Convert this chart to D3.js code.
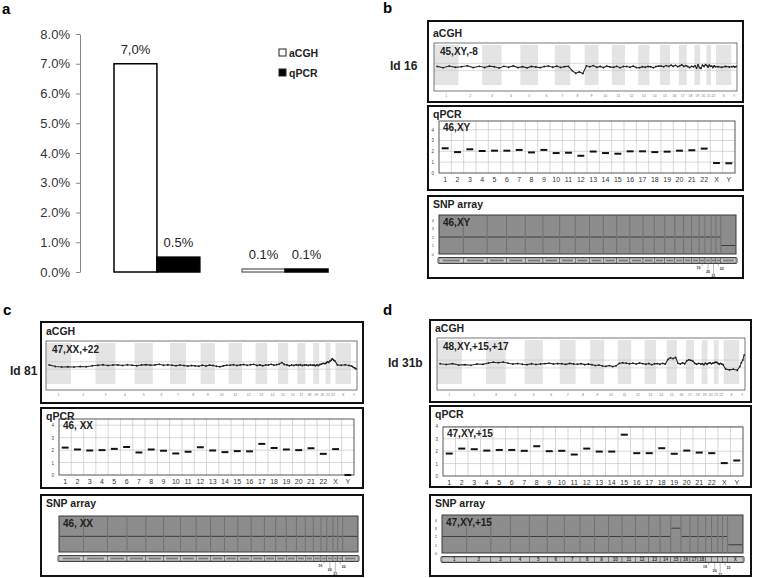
<!DOCTYPE html>
<html>
<head>
<meta charset="utf-8">
<script src="https://cdn.jsdelivr.net/npm/d3@7"></script>
<style>
  body { margin: 0; background: #fff; }
  text { font-family: "Liberation Sans", Arial, sans-serif; }
</style>
</head>
<body>
<svg id="fig" width="757" height="578"></svg>
<script>
// ---------- panel a data
const groupsA = ["A", "B"];
const seriesA = ["aCGH", "qPCR"];
const aCGHRate = [7.0, 0.1];
const qPCRRate = [0.5, 0.1];
const rateText = [["7,0%", "0.5%"], ["0.1%", "0.1%"]];
const rateTicks = [0, 1, 2, 3, 4, 5, 6, 7, 8];

// ---------- genome data
const chromosomes = ["1","2","3","4","5","6","7","8","9","10","11","12","13","14","15","16","17","18","19","20","21","22","X","Y"];
const chromLengthMb = [249,243,198,191,181,171,159,146,141,136,135,134,115,107,103,90,81,78,59,63,48,51,155,59];
const qpcrTicks = [0, 1, 2, 3, 4];
const snpTicks = [0, 1, 2, 3, 4];

// aCGH log2 ratios, a few probes per chromosome (1..22, X, Y)
const acghId16 = [
  [0.05,-0.06,0.08,-0.03],[0.02,0.1,-0.05,0.06],[-0.04,0.07,0.02,-0.08],[0.06,-0.02,0.09,-0.05],
  [0.03,-0.07,0.05,0.0],[-0.05,0.04,0.08,-0.02],[0.07,-0.04,0.03,0.06],[-0.3,-0.52,-0.41,-0.55],
  [0.1,0.02,0.12,-0.03],[0.05,-0.05,0.07,0.01],[-0.03,0.06,-0.06,0.04],[0.04,-0.02,0.07,-0.05],
  [-0.06,0.03,-0.02,0.05],[0.02,-0.06,0.04,0.07],[0.08,0.02,0.12,0.05],[0.15,0.06,0.14,0.03],
  [0.1,0.18,0.05,0.12],[0.04,-0.05,0.06,0.02],[0.1,-0.1,0.18,-0.05],[-0.12,0.15,0.05,0.2],
  [0.12,0.0,0.16,0.06],[0.08,-0.04,0.1,0.02],[0.03,-0.03,0.05,0.0],[0.02,0.06,0.0,0.04]
];
const acghId81 = [
  [0.05,-0.08,-0.12,-0.1],[-0.12,-0.08,-0.1,-0.02],[0.02,0.06,0.0,0.04],[0.05,0.0,0.06,0.02],
  [-0.02,0.04,0.07,0.03],[0.05,0.1,0.02,0.06],[0.02,-0.02,0.04,0.0],[-0.05,0.0,-0.03,-0.06],
  [0.02,-0.04,0.03,0.0],[-0.06,-0.1,-0.03,0.02],[0.03,0.06,0.0,0.05],[0.08,0.02,0.06,0.1],
  [0.0,0.05,-0.02,0.04],[0.05,0.1,0.03,0.06],[0.12,0.24,0.08,0.05],[-0.02,0.04,0.0,0.06],
  [0.02,0.07,0.0,0.04],[0.05,0.0,0.06,0.02],[0.04,-0.02,0.05,0.0],[0.08,0.12,0.18,0.15],
  [0.2,0.3,0.25,0.35],[0.42,0.55,0.45,0.38],[0.05,0.02,0.06,0.0],[-0.05,-0.15,-0.2,-0.28]
];
const acghId31b = [
  [0.02,-0.04,0.03,-0.08],[-0.05,-0.1,0.0,-0.03],[0.08,0.14,0.1,0.15],[0.06,0.0,0.04,-0.02],
  [-0.05,0.02,-0.04,0.0],[0.03,0.06,0.0,0.04],[0.02,-0.03,0.05,0.0],[-0.02,0.03,-0.05,0.0],
  [-0.05,-0.12,-0.08,-0.15],[-0.18,-0.12,-0.2,-0.14],[0.05,0.1,0.06,0.02],[0.06,0.0,0.08,0.03],
  [-0.02,0.04,-0.05,0.02],[0.03,-0.02,0.05,0.0],[0.35,0.48,0.42,0.5],[0.05,0.0,0.08,0.02],
  [0.25,0.32,0.28,0.22],[0.04,-0.02,0.05,0.0],[0.02,-0.05,0.06,-0.02],[0.05,0.1,0.02,0.08],
  [0.1,0.15,0.12,0.05],[-0.02,0.05,0.0,-0.05],[-0.38,-0.45,-0.4,-0.48],[-0.2,0.1,0.3,0.7]
];

// qPCR copy number per chromosome (1..22, X, Y)
const qpcrId16 = [2.28,1.93,2.19,2.03,2.06,2.06,2.13,1.9,2.13,1.84,1.87,1.59,1.98,1.84,1.78,2.0,2.0,1.93,1.97,2.06,2.1,2.25,0.92,0.9];
const qpcrId81 = [2.2,2.05,1.97,2.0,2.1,2.25,1.81,2.05,1.95,1.73,1.87,2.23,1.97,1.84,1.92,1.9,2.5,2.17,2.05,2.0,2.15,1.7,2.08,0.0];
const qpcrId31b = [1.81,2.21,2.16,2.05,2.1,2.1,2.03,2.4,2.0,2.03,1.73,2.21,1.97,1.97,3.33,1.84,1.84,2.24,1.79,2.05,1.89,1.84,1.04,1.25];

// SNP array copy number per chromosome (1..22, X)
const snpId16 = [2,2,2,2,2,2,2,2,2,2,2,2,2,2,2,2,2,2,2,2,2,2,1];
const snpId81 = [2,2,2,2,2,2,2,2,2,2,2,2,2,2,2,2,2,2,2,2,2,2,2];
const snpId31b = [2,2,2,2,2,2,2,2,2,2,2,2,2,2,3,2,2,2,2,2,2,2,1];

const svg = d3.select("#fig");

// ================= panel a
const ga = svg.append("g");
ga.append("text").attr("x", 2).attr("y", 14).attr("font-size", 15).attr("font-weight", "bold").text("a");

const xA = d3.scaleBand().domain(groupsA).range([114, 328]).paddingInner(0.33);
const xA1 = d3.scaleBand().domain(seriesA).range([0, xA.bandwidth()]);
const yA = d3.scaleLinear().domain([0, 8]).range([272, 34]);

ga.append("g")
  .attr("transform", "translate(80,0)")
  .call(d3.axisLeft(yA).tickValues(rateTicks).tickSize(4).tickSizeOuter(0).tickPadding(6)
    .tickFormat(d => d.toFixed(1) + "%"))
  .call(g => {
    g.select(".domain").attr("stroke", "#888");
    g.selectAll(".tick line").attr("stroke", "#888");
    g.selectAll(".tick text").attr("font-size", 13).attr("fill", "#333")
      .attr("font-family", "'Liberation Sans', Arial, sans-serif");
  });

const barsA = groupsA.flatMap((grp, i) => [
  { grp, s: "aCGH", v: aCGHRate[i], t: rateText[i][0] },
  { grp, s: "qPCR", v: qPCRRate[i], t: rateText[i][1] }
]);

ga.selectAll(".barA")
  .data(barsA)
  .join("rect")
  .attr("class", "barA")
  .attr("x", d => xA(d.grp) + xA1(d.s))
  .attr("y", d => yA(d.v))
  .attr("width", xA1.bandwidth())
  .attr("height", d => yA(0) - yA(d.v))
  .attr("fill", d => d.s === "aCGH" ? "#fff" : "#000")
  .attr("stroke", d => d.s === "aCGH" && d.v < 1 ? "#777" : "#000")
  .attr("stroke-width", 1.5);

ga.selectAll(".lblA")
  .data(barsA)
  .join("text")
  .attr("x", d => xA(d.grp) + xA1(d.s) + xA1.bandwidth() / 2)
  .attr("y", d => yA(d.v) - 10)
  .attr("text-anchor", "middle")
  .attr("font-size", 13)
  .attr("fill", "#222")
  .text(d => d.t);

// legend
const legA = ga.selectAll(".legA").data(seriesA).join("g")
  .attr("transform", (d, i) => `translate(279,${49 + i * 20})`);
legA.append("rect").attr("width", 7).attr("height", 7)
  .attr("fill", d => d === "aCGH" ? "#fff" : "#000").attr("stroke", "#222").attr("stroke-width", 1);
legA.append("text").attr("x", 10).attr("y", 7.5).attr("font-size", 10.5).attr("font-weight", "bold")
  .attr("fill", "#222").text(d => d);

// ================= genome panels
const chromEnds = d3.cumsum(chromLengthMb);
const chromStarts = chromLengthMb.map((l, i) => chromEnds[i] - l);

const panels = [
  {
    letter: "b", letterPos: [383, 13], id: "Id 16", idPos: [390, 70],
    karyo: ["45,XY,-8", "46,XY", "46,XY"],
    acgh: acghId16, qpcr: qpcrId16, snp: snpId16,
    boxX: [428, 743],
    acghBox: [21, 102], acghIn: { x0: 434, x1: 737, y0: 43, y1: 91 },
    qpcrBox: [106, 190], qpcrIn: { x0: 439, x1: 735, y0: 121, y1: 173 }, qMax: 4.8,
    snpBox: [196, 278], snpIn: { x0: 439, x1: 736, y0: 215, y1: 254 },
    snpAxis: true, barNumbers: false
  },
  {
    letter: "c", letterPos: [3, 315], id: "Id 81", idPos: [10, 375],
    karyo: ["47,XX,+22", "46, XX", "46, XX"],
    acgh: acghId81, qpcr: qpcrId81, snp: snpId81,
    boxX: [41, 363],
    acghBox: [322, 403], acghIn: { x0: 46, x1: 357, y0: 341, y1: 390 },
    qpcrBox: [408, 488], qpcrIn: { x0: 59, x1: 354, y0: 419, y1: 475 }, qMax: 4.5,
    snpBox: [495, 576], snpIn: { x0: 59, x1: 358, y0: 516, y1: 552 },
    snpAxis: false, barNumbers: false
  },
  {
    letter: "d", letterPos: [383, 315], id: "Id 31b", idPos: [388, 367],
    karyo: ["48,XY,+15,+17", "47,XY,+15", "47,XY,+15"],
    acgh: acghId31b, qpcr: qpcrId31b, snp: snpId31b,
    boxX: [430, 751],
    acghBox: [320, 402], acghIn: { x0: 437, x1: 745, y0: 338, y1: 390 },
    qpcrBox: [406, 487], qpcrIn: { x0: 443, x1: 743, y0: 427, y1: 476 }, qMax: 3.95,
    snpBox: [495, 576], snpIn: { x0: 442, x1: 743, y0: 515, y1: 553 },
    snpAxis: true, barNumbers: true
  }
];

function styleTinyAxis(g, size, color) {
  g.select(".domain").remove();
  g.selectAll(".tick line").remove();
  g.selectAll(".tick text").attr("font-size", size).attr("fill", color)
    .attr("font-family", "'Liberation Sans', Arial, sans-serif");
}

function drawAcgh(g, p) {
  const inn = p.acghIn;
  const x = d3.scaleLinear().domain([0, chromEnds[chromEnds.length - 1]]).range([inn.x0, inn.x1]);
  const y = d3.scaleLinear().domain([-2, 2]).range([inn.y1, inn.y0]);
  const chr = chromosomes.map((c, i) => ({ c, i, s: chromStarts[i], e: chromEnds[i] }));

  g.selectAll(null).data(chr.filter(d => d.i % 2 === 0)).join("rect")
    .attr("x", d => x(d.s)).attr("width", d => x(d.e) - x(d.s))
    .attr("y", inn.y0 + 2).attr("height", inn.y1 - inn.y0 - 8)
    .attr("fill", "#e4e4e4");

  g.selectAll(null).data([-0.3, 0.3]).join("line")
    .attr("x1", inn.x0).attr("x2", inn.x1)
    .attr("y1", d => y(d)).attr("y2", d => y(d))
    .attr("stroke", "#c4c4c4").attr("stroke-width", 0.6);

  const pts = p.acgh.flatMap((vals, i) => vals.map((v, j) => ({
    pos: chromStarts[i] + (j + 0.5) / vals.length * chromLengthMb[i], v
  })));
  g.append("path").datum(pts)
    .attr("d", d3.line().x(d => x(d.pos)).y(d => y(d.v)))
    .attr("fill", "none").attr("stroke", "#2a2a2a").attr("stroke-width", 1.1);
  g.selectAll(null).data(pts).join("circle")
    .attr("cx", d => x(d.pos)).attr("cy", d => y(d.v)).attr("r", 0.9).attr("fill", "#222");

  g.append("rect").attr("x", inn.x0).attr("y", inn.y0)
    .attr("width", inn.x1 - inn.x0).attr("height", inn.y1 - inn.y0)
    .attr("fill", "none").attr("stroke", "#555").attr("stroke-width", 0.8);

  g.selectAll(null).data(chr).join("text")
    .attr("x", d => x((d.s + d.e) / 2)).attr("y", inn.y1 + 5.5)
    .attr("text-anchor", "middle").attr("font-size", 3.5).attr("fill", "#777")
    .text(d => d.c);

  g.append("text").attr("x", inn.x0 + 6).attr("y", inn.y0 + 12)
    .attr("font-size", 10).attr("font-weight", "bold").attr("fill", "#222").text(p.karyo[0]);
}

function drawQpcr(g, p) {
  const inn = p.qpcrIn;
  const x = d3.scaleBand().domain(chromosomes).range([inn.x0, inn.x1]);
  const y = d3.scaleLinear().domain([0, p.qMax]).range([inn.y1, inn.y0]);

  g.selectAll(null).data(chromosomes.slice(1)).join("line")
    .attr("x1", d => x(d)).attr("x2", d => x(d))
    .attr("y1", inn.y0).attr("y2", inn.y1)
    .attr("stroke", "#bdbdbd").attr("stroke-width", 0.6);
  g.selectAll(null).data(qpcrTicks.slice(1)).join("line")
    .attr("x1", inn.x0).attr("x2", inn.x1)
    .attr("y1", d => y(d)).attr("y2", d => y(d))
    .attr("stroke", "#bdbdbd").attr("stroke-width", 0.6);
  g.append("rect").attr("x", inn.x0).attr("y", inn.y0)
    .attr("width", inn.x1 - inn.x0).attr("height", inn.y1 - inn.y0)
    .attr("fill", "none").attr("stroke", "#444").attr("stroke-width", 0.9);

  g.selectAll(null).data(p.qpcr.map((v, i) => ({ c: chromosomes[i], v }))).join("line")
    .attr("x1", d => x(d.c) + x.bandwidth() * 0.22)
    .attr("x2", d => x(d.c) + x.bandwidth() * 0.78)
    .attr("y1", d => y(d.v)).attr("y2", d => y(d.v))
    .attr("stroke", "#111").attr("stroke-width", 2);

  g.append("g").attr("transform", `translate(${inn.x0},0)`)
    .call(d3.axisLeft(y).tickValues(qpcrTicks).tickSize(0).tickPadding(5).tickFormat(d3.format("d")))
    .call(a => styleTinyAxis(a, 4.5, "#444"));
  g.append("g").attr("transform", `translate(0,${inn.y1})`)
    .call(d3.axisBottom(x).tickSize(0).tickPadding(4))
    .call(a => styleTinyAxis(a, 7, "#333"));

  g.append("text").attr("x", inn.x0 + 4).attr("y", inn.y0 + 10)
    .attr("font-size", 10).attr("font-weight", "bold").attr("fill", "#222").text(p.karyo[1]);
}

function drawSnp(g, p) {
  const inn = p.snpIn;
  const chr = chromosomes.slice(0, 23).map((c, i) => ({ c, i, s: chromStarts[i], e: chromEnds[i], cn: p.snp[i] }));
  const x = d3.scaleLinear().domain([0, chromEnds[22]]).range([inn.x0, inn.x1]);
  const y = d3.scaleLinear().domain([0, 4.6]).range([inn.y1, inn.y0]);

  g.append("rect").attr("x", inn.x0).attr("y", inn.y0)
    .attr("width", inn.x1 - inn.x0).attr("height", inn.y1 - inn.y0)
    .attr("fill", "#8d8d8d").attr("stroke", "#3a3a3a").attr("stroke-width", 1);
  g.selectAll(null).data(chr.slice(0, 22)).join("line")
    .attr("x1", d => x(d.e)).attr("x2", d => x(d.e))
    .attr("y1", inn.y0).attr("y2", inn.y1)
    .attr("stroke", "#6a6a6a").attr("stroke-width", 0.8);
  g.selectAll(null).data(chr).join("line")
    .attr("x1", d => x(d.s) + 0.6).attr("x2", d => x(d.e) - 0.6)
    .attr("y1", d => y(d.cn)).attr("y2", d => y(d.cn))
    .attr("stroke", "#3c3c3c").attr("stroke-width", 1);

  if (p.snpAxis) {
    g.append("g").attr("transform", `translate(${inn.x0},0)`)
      .call(d3.axisLeft(y).tickValues(snpTicks).tickSize(0).tickPadding(5).tickFormat(d3.format("d")))
      .call(a => styleTinyAxis(a, 4, "#444"));
  }

  // ideogram strip
  const by = inn.y1 + 4, bh = 5;
  g.selectAll(null).data(chr).join("rect")
    .attr("x", d => x(d.s)).attr("width", d => x(d.e) - x(d.s))
    .attr("y", by).attr("height", bh)
    .attr("fill", "#c6c6c6").attr("stroke", "#4a4a4a").attr("stroke-width", 0.5);
  if (p.barNumbers) {
    g.selectAll(null).data(chr.filter(d => d.i < 18 || d.c === "X")).join("text")
      .attr("x", d => x((d.s + d.e) / 2)).attr("y", by + 4.2)
      .attr("text-anchor", "middle").attr("font-size", 4.5).attr("font-weight", "bold")
      .attr("fill", "#333").text(d => d.c);
  } else {
    g.selectAll(null).data(chr).join("rect")
      .attr("x", d => x(d.s + (d.e - d.s) * 0.15)).attr("width", d => (x(d.e) - x(d.s)) * 0.7)
      .attr("y", by + 1.6).attr("height", 1.8).attr("fill", "#7a7a7a");
  }
  g.append("rect").attr("x", inn.x0 - 1).attr("y", by - 0.5)
    .attr("width", inn.x1 - inn.x0 + 2).attr("height", bh + 1).attr("rx", 1)
    .attr("fill", "none").attr("stroke", "#333").attr("stroke-width", 0.9);

  // small chromosome 19-22 call-outs
  const small = [
    { c: "19", dx: -1.5, dy: 6, anchor: "end" },
    { c: "20", dx: 0, dy: 10, anchor: "middle" },
    { c: "21", dx: 0, dy: 14, anchor: "middle" },
    { c: "22", dx: 1.5, dy: 6.5, anchor: "start" }
  ].map(s => ({ ...s, cx: x((chromStarts[chromosomes.indexOf(s.c)] + chromEnds[chromosomes.indexOf(s.c)]) / 2) }));
  g.selectAll(null).data(small).join("line")
    .attr("x1", d => d.cx).attr("x2", d => d.cx)
    .attr("y1", by + bh + 0.5).attr("y2", d => by + bh + d.dy - 3)
    .attr("stroke", "#555").attr("stroke-width", 0.4);
  g.selectAll(null).data(small).join("text")
    .attr("x", d => d.cx + d.dx).attr("y", d => by + bh + d.dy)
    .attr("text-anchor", d => d.anchor).attr("font-size", 3.6).attr("font-weight", "bold")
    .attr("fill", "#333").text(d => d.c);

  g.append("text").attr("x", inn.x0 + 4).attr("y", inn.y0 + 11)
    .attr("font-size", 10).attr("font-weight", "bold").attr("fill", "#1e1e1e").text(p.karyo[2]);
}

panels.forEach(p => {
  const g = svg.append("g");
  g.append("text").attr("x", p.letterPos[0]).attr("y", p.letterPos[1])
    .attr("font-size", 15).attr("font-weight", "bold").text(p.letter);
  g.append("text").attr("x", p.idPos[0]).attr("y", p.idPos[1])
    .attr("font-size", 12).attr("font-weight", "bold").attr("fill", "#222").text(p.id);

  const boxes = [
    { t: "aCGH", b: p.acghBox, ty: p.acghIn.y0 - 6 },
    { t: "qPCR", b: p.qpcrBox, ty: p.qpcrBox[0] + 12 },
    { t: "SNP array", b: p.snpBox, ty: p.snpBox[0] + 12 }
  ];
  g.selectAll(null).data(boxes).join("rect")
    .attr("x", p.boxX[0]).attr("y", d => d.b[0])
    .attr("width", p.boxX[1] - p.boxX[0]).attr("height", d => d.b[1] - d.b[0])
    .attr("fill", "#fff").attr("stroke", "#111").attr("stroke-width", 2);
  g.selectAll(null).data(boxes).join("text")
    .attr("x", p.boxX[0] + 5).attr("y", d => d.ty)
    .attr("font-size", 10.5).attr("font-weight", "bold").attr("fill", "#222").text(d => d.t);

  drawAcgh(g.append("g"), p);
  drawQpcr(g.append("g"), p);
  drawSnp(g.append("g"), p);
});
</script>
</body>
</html>
